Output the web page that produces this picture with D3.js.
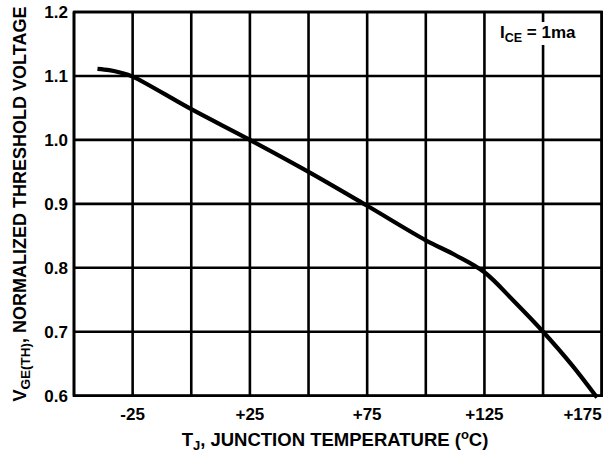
<!DOCTYPE html>
<html><head><meta charset="utf-8">
<script src="https://cdn.jsdelivr.net/npm/d3@7"></script>
<style>body{margin:0;background:#fff}svg{display:block}text{font-family:"Liberation Sans",Arial,sans-serif;font-weight:bold;fill:#000}</style>
</head><body><svg id="c" width="613" height="453"></svg>
<script>
const temps = [-40, -35, -30, -25, 0, 25, 50, 75, 100, 112.5, 125, 137.5, 150, 162.5, 173];
const volts = [1.111, 1.109, 1.105, 1.099, 1.048, 1.0, 0.95, 0.897, 0.843, 0.82, 0.793, 0.748, 0.700, 0.647, 0.597];
const xGrid = [-50, -25, 0, 25, 50, 75, 100, 125, 150, 175];
const xTickLabels = ["-25", "+25", "+75", "+125", "+175"];
const xTickValues = [-25, 25, 75, 125, 175];
const yTicks = [0.6, 0.7, 0.8, 0.9, 1.0, 1.1, 1.2];
const yTickLabels = ["0.6", "0.7", "0.8", "0.9", "1.0", "1.1", "1.2"];

const svg = d3.select("#c");
const L = 74, R = 601.7, T = 12, B = 395.7;
const x = d3.scaleLinear().domain([-50, 175]).range([L, R]);
const y = d3.scaleLinear().domain([0.6, 1.2]).range([B, T]);

// grid
svg.append("g").selectAll("line").data(xGrid).join("line")
  .attr("x1", d => x(d)).attr("x2", d => x(d)).attr("y1", T).attr("y2", B)
  .attr("stroke", "#000").attr("stroke-width", 2.6);
svg.append("g").selectAll("line").data(yTicks).join("line")
  .attr("x1", L).attr("x2", R).attr("y1", d => y(d)).attr("y2", d => y(d))
  .attr("stroke", "#000").attr("stroke-width", 2.6);
svg.append("rect").attr("x", L).attr("y", T).attr("width", R - L).attr("height", B - T)
  .attr("fill", "none").attr("stroke", "#000").attr("stroke-width", 2.6);

// annotation background
svg.append("rect").attr("x", 498).attr("y", 22).attr("width", 90).attr("height", 23).attr("fill", "#fff");
const ann = svg.append("text").attr("x", 500).attr("y", 38).attr("font-size", 17);
ann.append("tspan").text("I");
ann.append("tspan").attr("font-size", 12.5).attr("dy", 4).text("CE");
ann.append("tspan").attr("dy", -4).text(" = 1ma");

// curve
const pts = temps.map((t, i) => [t, volts[i]]);
svg.append("path").datum(pts)
  .attr("d", d3.line().x(d => x(d[0])).y(d => y(d[1])).curve(d3.curveCatmullRom.alpha(0.5)))
  .attr("fill", "none").attr("stroke", "#000").attr("stroke-width", 4.2);

// y tick labels
svg.append("g").selectAll("text").data(yTicks).join("text")
  .attr("x", 68).attr("y", d => y(d) + 6).attr("text-anchor", "end").attr("font-size", 17)
  .text((d, i) => yTickLabels[i]);

// x tick labels
svg.append("g").selectAll("text").data(xTickValues).join("text")
  .attr("x", d => x(d))
  .attr("y", 420).attr("font-size", 17)
  .attr("text-anchor", (d, i) => i === xTickValues.length - 1 ? "end" : "middle")
  .text((d, i) => xTickLabels[i]);

// x title
const xt = svg.append("text").attr("x", 335).attr("y", 446).attr("text-anchor", "middle").attr("font-size", 18.5);
xt.append("tspan").text("T");
xt.append("tspan").attr("font-size", 13).attr("dy", 4).text("J");
xt.append("tspan").attr("dy", -4).text(", JUNCTION TEMPERATURE (");
xt.append("tspan").attr("font-size", 13).attr("dy", -7).text("o");
xt.append("tspan").attr("dy", 7).text("C)");

// y title
const yt = svg.append("text").attr("transform", "translate(26,204) rotate(-90)")
  .attr("text-anchor", "middle").attr("font-size", 18);
yt.append("tspan").text("V");
yt.append("tspan").attr("font-size", 13.5).attr("dy", 4).text("GE(TH)");
yt.append("tspan").attr("dy", -4).text(", NORMALIZED THRESHOLD VOLTAGE");
</script></body></html>
